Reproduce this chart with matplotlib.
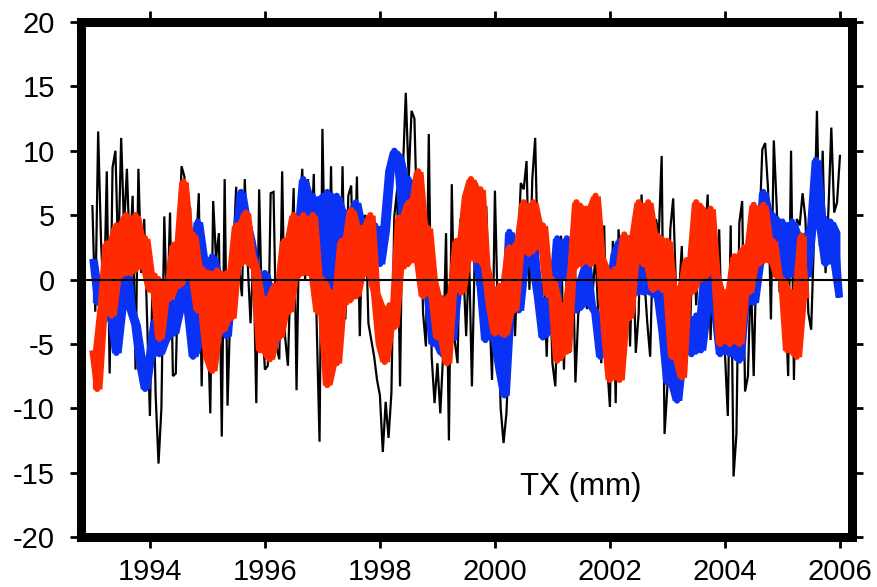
import numpy as np
import pandas as pd
import matplotlib
matplotlib.use("Agg")
import matplotlib.pyplot as plt

plt.rcParams['font.family'] = ['Liberation Sans', 'DejaVu Sans']

# ---- data -------------------------------------------------------------
# black series: values every 0.05 yr starting 1993.00
black_start = 1993.0
black_step = 0.05
black_vals = [
    5.7, -2.5, 11.5, 3.0, -2.0, 8.4, -7.3, 8.7, 10.0, 1.5, 11.0, 4.0, 8.6, 2.0, 6.5, -7.0, 8.6, 0.5, 4.7, -3.0,
    -10.6, 1.0, -9.0, -14.3, -10.0, 4.9, -3.0, 5.2, -7.5, -7.3, 1.8, 8.8, 8.0, -2.9, 5.6, -5.9, 2.0, 6.7, -8.3, 2.1,
    -2.3, -10.4, 6.1, 1.6, 3.6, -12.2, 7.8, -9.8, -2.1, 2.0, 7.2, 1.0, -1.3, 7.8, 1.3, -3.4, 2.0, -9.6, 7.0, -3.0,
    -7.0, -6.7, 6.7, 6.8, -5.2, -6.2, 8.4, -4.4, -6.7, 1.0, 7.1, -8.6, 5.2, 8.6, 0.0, 7.8, 2.0, 8.2, -3.4, -12.6,
    11.7, 0.0, -3.0, 8.8, -5.2, 6.7, -2.6, 8.8, -3.1, 6.5, 7.3, -1.0, 8.0, -4.4, 4.7, 5.0, -3.4, -4.7, -6.0, -7.8,
    -9.0, -13.4, -9.5, -12.3, -8.8, 4.9, 7.0, -8.3, 8.6, 14.5, 7.8, 13.1, 12.5, 4.0, 7.5, -2.6, -5.2, 11.3, -6.0, -9.6,
    -6.5, -10.4, -5.7, 3.6, -12.5, 7.4, -4.7, -6.5, 4.7, 1.0, -4.4, 2.1, -8.3, 2.1, -0.5, 7.0, 1.0, 5.7, -2.0, -7.8,
    6.9, -2.6, -10.0, -12.7, -10.4, -5.2, 0.5, -4.4, 2.0, 7.5, 7.0, 9.2, -0.8, 7.8, 11.0, 1.0, -2.6, 1.0, -6.0, 1.0,
    -6.5, -8.3, -1.0, 3.4, -7.0, 0.5, -5.7, 2.6, -8.0, -2.6, -2.1, 2.0, -2.3, 2.3, -1.0, 2.0, -3.0, -6.5, 4.2, -6.5,
    -9.9, 3.0, -9.6, 3.9, -0.5, 2.0, 3.1, -5.2, 2.6, -5.7, -2.6, 6.6, 0.0, -3.4, -6.0, 3.1, 4.7, 3.5, 9.6, -12.0,
    -8.3, 3.9, 6.3, -1.0, -1.3, 2.6, -5.2, 1.3, -3.0, 3.9, -2.0, 2.6, -1.0, 3.0, 6.6, -4.7, 3.1, -5.2, 3.9, -5.0,
    -5.7, -10.6, 4.2, -15.3, -12.0, 4.4, 6.1, -8.7, -7.5, 0.5, -7.5, 2.1, 4.0, 10.1, 10.6, 7.0, -3.1, 10.8, 5.7, -1.0,
    3.6, -1.5, -7.5, 10.0, -7.8, 4.7, 4.2, 6.7, 4.7, -2.6, -3.9, 3.4, 13.1, 2.6, 10.0, 0.5, 5.4, 11.8, 5.2, 6.0,
    9.6,
]

# blue series: monthly values starting 1993.0
blue_start = 1993.0
blue_step = 1.0 / 12
blue_vals = [
    1.6, -1.8, -1.0, -3.0, -1.5, -5.7, -1.0, 1.5, -2.3, -3.5, -6.5, -8.5,
    -6.0, -3.2, -5.8, -4.8, -1.5, -4.2, -1.5, 0.3, -2.5, -6.0, 4.5, -3.0,
    -5.0, 1.8, 0.5, -3.0, -4.4, 0.0, 3.0, 6.8, 4.6, 3.0, 0.8, -1.2,
    0.5, -3.5, -5.0, -1.0, 2.4, 1.2, 3.5, 0.5, 7.8, 5.0, 6.5, 1.0,
    -2.0, 6.8, -0.8, 6.5, 1.2, 5.2, -1.0, 6.0, 1.2, 4.2, 1.2, 4.2,
    1.2, 3.8, 8.5, 10.0, 9.5, 3.8, 7.8, 2.2, 7.0, 2.5, -1.0, -5.0,
    -1.2, -5.8, -1.5, -4.7, -1.0, 2.0, 5.2, 2.0, 5.0, -0.2, -4.7, -1.0,
    -4.5, -7.0, -9.0, 3.7, 0.3, -2.4, 2.4, 1.2, 2.4, -1.3, -4.5, -1.5,
    -4.0, 3.2, 0.2, 3.2, -0.2, -2.4, 0.0, 1.2, -2.0, -2.6, -6.0, -3.0,
    -1.0, 2.0, 3.0, -2.4, 1.2, -1.2, 1.2, -1.0, 1.0, -1.2, 1.0, -4.0,
    -8.0, -4.5, -9.4, -4.0, -2.8, -5.8, -2.8, -5.5, 1.5, -2.4, -2.2, -5.8,
    -2.2, -5.8, -2.8, -6.3, -2.0, 0.8, -1.8, 1.0, 6.8, 2.8, 5.0, 1.2,
    4.5, 0.2, 4.5, 0.2, 3.4, 0.2, 4.0, 9.3, 5.0, 1.2, 4.5, 3.7,
    -1.4,
]

# red series: monthly values starting 1993.0
red_start = 1993.0
red_step = 1.0 / 12
red_vals = [
    -5.5, -8.5, -2.0, 2.8, -2.8, 4.2, 0.3, 5.0, 0.5, 5.0, 1.0, 3.2,
    -0.8, 0.3, -4.6, -0.3, -1.5, 2.7, -0.5, 7.6, 0.3, 3.5, -2.4, 0.8,
    -6.0, -7.1, 0.7, -4.0, 0.5, -3.0, 4.2, 1.2, 5.2, 2.0, 0.8, -5.5,
    -1.5, -6.2, -0.5, -4.5, 3.0, -2.5, 5.0, 0.3, 5.0, 0.5, 5.0, -2.5,
    0.0, -8.2, -1.0, -6.5, 3.0, -1.8, 5.4, -1.3, 4.0, 0.5, 5.0, -1.0,
    -5.0, -6.4, -2.0, -3.7, 4.8, 1.0, 6.0, 1.5, 8.4, -1.3, 4.0, 0.0,
    -4.5, -1.5, -6.5, -1.0, 3.0, -1.0, 6.5, 7.8, 1.5, 7.0, 1.0, -2.0,
    -4.2, -0.5, -4.3, 2.5, -2.4, 3.0, 6.0, 2.0, 6.0, 2.5, 4.2, -1.2,
    0.0, -6.3, -2.0, -5.6, 0.8, 6.0, 1.2, 5.5, 1.2, 6.5, 1.8, -4.0,
    -7.8, 0.8, -7.8, 3.5, -3.0, 3.5, 6.0, 1.2, 6.0, -0.8, 3.4, -0.8,
    3.0, -6.0, -0.7, -7.6, 1.5, -1.0, 6.0, 0.0, 4.5, 5.5, 0.4, -5.0,
    -1.0, -5.0, 1.8, -5.0, 2.5, -1.0, 5.8, 1.2, 5.8, 1.5, 3.0, 0.2,
    0.0, -5.5, -1.0, -6.0, 3.4, -1.5,
]

x_ticks = [1994, 1996, 1998, 2000, 2002, 2004, 2006]
y_ticks = [-20, -15, -10, -5, 0, 5, 10, 15, 20]
label_text = "TX (mm)"

BLUE = '#0a32f5'
RED = '#ff2a00'

# ---- plot -------------------------------------------------------------
black_t = black_start + black_step * np.arange(len(black_vals))
blue_t = blue_start + blue_step * np.arange(len(blue_vals))
red_t = red_start + red_step * np.arange(len(red_vals))


def band(ax, t, vals, color, z):
    s = pd.Series(vals)
    hi = s.rolling(3, center=True, min_periods=1).max().to_numpy()
    lo = s.rolling(3, center=True, min_periods=1).min().to_numpy()
    ax.fill_between(t, lo, hi, color=color, lw=0, zorder=z)
    ax.plot(t, vals, color=color, lw=4.5, zorder=z,
            solid_joinstyle='round', solid_capstyle='butt')


fig = plt.figure(figsize=(8.78, 5.87), dpi=100)
ax = fig.add_axes([0.0928, 0.0852, 0.8776, 0.8773])

ax.plot(black_t, black_vals, color='black', lw=1.6, zorder=2,
        solid_joinstyle='miter')
band(ax, blue_t, blue_vals, BLUE, 3)
band(ax, red_t, red_vals, RED, 4)
ax.axhline(0, color='black', lw=1.5, zorder=5)

ax.set_xlim(1992.81, 2006.21)
ax.set_ylim(-20, 20)
ax.set_xticks(x_ticks)
ax.set_yticks(y_ticks)
ax.set_yticklabels([str(v) for v in y_ticks])

for sp in ax.spines.values():
    sp.set_linewidth(6.5)
    sp.set_capstyle('projecting')
    sp.set_zorder(10)

ax.tick_params(axis='both', which='major', direction='out', length=8, width=2,
               top=True, right=True, labelsize=21)
ax.tick_params(axis='y', pad=11)
ax.tick_params(axis='x', pad=7)

ax.text(2000.43, -16.73, label_text, fontsize=22.5, ha='left', va='baseline')

fig.savefig('out.png', dpi=100)
